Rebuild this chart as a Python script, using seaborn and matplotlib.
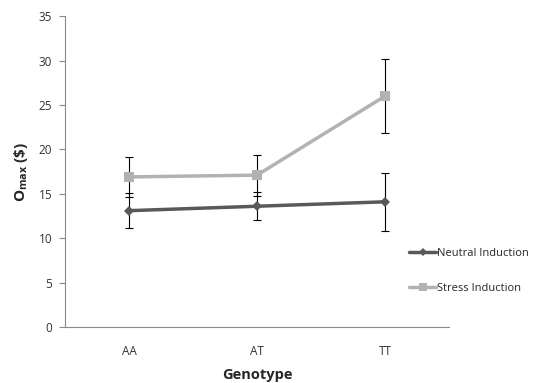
import matplotlib
matplotlib.use("Agg")
import matplotlib.pyplot as plt
import seaborn as sns
import pandas as pd
import numpy as np
from matplotlib.lines import Line2D

genotypes = ["AA", "AT", "TT"]
neutral = [13.1, 13.6, 14.1]
neutral_err = [2.0, 1.6, 3.25]
stress = [16.9, 17.1, 26.0]
stress_err = [2.25, 2.3, 4.15]
series_names = ["Neutral Induction", "Stress Induction"]
yticks = [0, 5, 10, 15, 20, 25, 30, 35]

sns.set_theme(style="white")
plt.rcParams['font.family'] = ['Open Sans', 'DejaVu Sans']
plt.rcParams['mathtext.fontset'] = 'custom'
plt.rcParams['mathtext.rm'] = 'Open Sans'
plt.rcParams['mathtext.bf'] = 'Open Sans:bold'
plt.rcParams['mathtext.it'] = 'Open Sans:italic'

df = pd.DataFrame({
    "Genotype": genotypes * 2,
    "value": neutral + stress,
    "err": neutral_err + stress_err,
    "series": [series_names[0]] * 3 + [series_names[1]] * 3,
})

fig = plt.figure(figsize=(5.36, 3.83), dpi=100)
ax = fig.add_axes([0.121, 0.146, 0.717, 0.812])

colors = {series_names[0]: "#595959", series_names[1]: "#b2b2b2"}
markers = {series_names[0]: "D", series_names[1]: "s"}
msizes = {series_names[0]: 5, series_names[1]: 7}

for name in series_names:
    sub = df[df.series == name]
    ax.errorbar(sub["Genotype"], sub["value"], yerr=sub["err"], fmt="none",
                ecolor="black", elinewidth=0.8, capsize=3, capthick=0.8, zorder=2)

for name in series_names:
    sub = df[df.series == name]
    sns.lineplot(data=sub, x="Genotype", y="value", ax=ax, color=colors[name],
                 marker=markers[name], markersize=msizes[name], markeredgewidth=0,
                 linewidth=2.5, legend=False, zorder=3, sort=False)

ax.set_xlim(-0.5, 2.5)
ax.set_ylim(0, 35)
ax.set_yticks(yticks)
ax.set_xticks(range(3))
ax.set_xticklabels(genotypes)
ax.set_xticks([-0.5, 0.5, 1.5, 2.5], minor=True)
ax.tick_params(axis="x", which="major", length=0, labelsize=8.5, pad=13, labelcolor="#333333")
ax.tick_params(axis="x", which="minor", length=4, width=0.8, color="#888888", direction="out")
ax.tick_params(axis="y", length=4, width=0.8, color="#888888", labelsize=8.5, pad=5,
               labelcolor="#333333", left=True)
for s in ["top", "right"]:
    ax.spines[s].set_visible(False)
for s in ["left", "bottom"]:
    ax.spines[s].set_color("#888888")
    ax.spines[s].set_linewidth(0.8)

ax.set_xlabel("Genotype", fontsize=10.5, fontweight="bold", labelpad=7)
ax.set_ylabel(r"O$_{\mathbf{max}}$ (\$)", fontsize=11, fontweight="bold", labelpad=6)

handles = [Line2D([0], [0], color=colors[n], marker=markers[n], markersize=msizes[n] - 1,
                  markeredgewidth=0, linewidth=2.5) for n in series_names]
fig.legend(handles, series_names, loc="upper left", bbox_to_anchor=(0.745, 0.378),
           frameon=False, fontsize=8, handlelength=2.4, handletextpad=0.1,
           labelspacing=2.1)

fig.savefig("out.png", dpi=100)
